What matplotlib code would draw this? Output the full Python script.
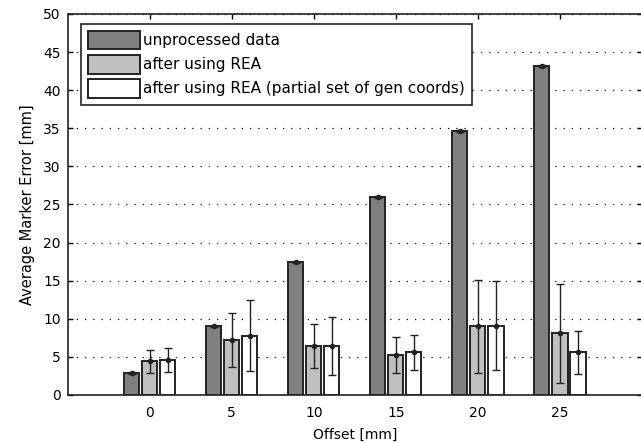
"""Average marker error vs offset, before/after REA."""

import matplotlib
matplotlib.use("Agg")
import matplotlib.pyplot as plt
import numpy as np

plt.rcParams["font.family"] = ["DejaVu Sans"]
plt.rcParams["font.size"] = 10

OFFSETS = [0, 5, 10, 15, 20, 25]
LABELS = [
    "unprocessed data",
    "after using REA",
    "after using REA (partial set of gen coords)",
]

RAW_MEAN = [2.9, 9.0, 17.4, 26.0, 34.6, 43.2]
RAW_ERR = [0.1, 0.1, 0.1, 0.1, 0.15, 0.15]

REA_MEAN = [4.4, 7.2, 6.4, 5.2, 9.0, 8.1]
REA_ERR = [1.5, 3.5, 2.9, 2.35, 6.1, 6.5]

PART_MEAN = [4.6, 7.8, 6.4, 5.6, 9.1, 5.6]
PART_ERR = [1.6, 4.7, 3.8, 2.3, 5.8, 2.8]

COLORS = ["#808080", "#c0c0c0", "#ffffff"]


def main():
    fig = plt.figure(figsize=(6.41, 4.43), dpi=100)
    ax = fig.add_axes([0.1056, 0.1084, 0.896, 0.86])

    x = np.array(OFFSETS, dtype=float)
    shift = 1.1
    width = 0.92
    series = [(RAW_MEAN, RAW_ERR), (REA_MEAN, REA_ERR), (PART_MEAN, PART_ERR)]
    for i, (mean, err) in enumerate(series):
        xs = x + (i - 1) * shift
        ax.bar(xs, mean, width=width, color=COLORS[i], edgecolor="#222222",
               linewidth=1.4, label=LABELS[i], zorder=3)
        ax.errorbar(xs, mean, yerr=err, fmt="o", color="#222222", markersize=3,
                    elinewidth=1.0, capsize=3, capthick=1.0, zorder=4)

    ax.set_xlim(-5, 30)
    ax.set_ylim(0, 50)
    ax.set_xticks(OFFSETS)
    ax.set_yticks(np.arange(0, 51, 5))
    ax.tick_params(direction="in", top=True, right=True, length=3.5, width=1,
                   labelsize=10)
    ax.tick_params(axis="x", pad=8)
    ax.tick_params(axis="y", pad=5)
    ax.yaxis.grid(True, linestyle=(0, (1, 5.6)), color="black", linewidth=0.9)
    ax.set_axisbelow(True)
    for sp in ax.spines.values():
        sp.set_linewidth(1.2)
        sp.set_color("#222222")

    ax.set_xlabel("Offset [mm]", labelpad=5.5)
    ax.set_ylabel("Average Marker Error [mm]", labelpad=6, fontsize=10.5)

    leg = ax.legend(loc="upper left", bbox_to_anchor=(0.0226, 0.974),
                    borderaxespad=0, fancybox=False, framealpha=1,
                    edgecolor="#222222", fontsize=11, handlelength=3.45,
                    handleheight=1.5, labelspacing=0.36, handletextpad=0.2,
                    borderpad=0.45)
    leg.get_frame().set_linewidth(1.2)

    fig.savefig("out.png", dpi=100)
    plt.close(fig)


if __name__ == "__main__":
    main()
